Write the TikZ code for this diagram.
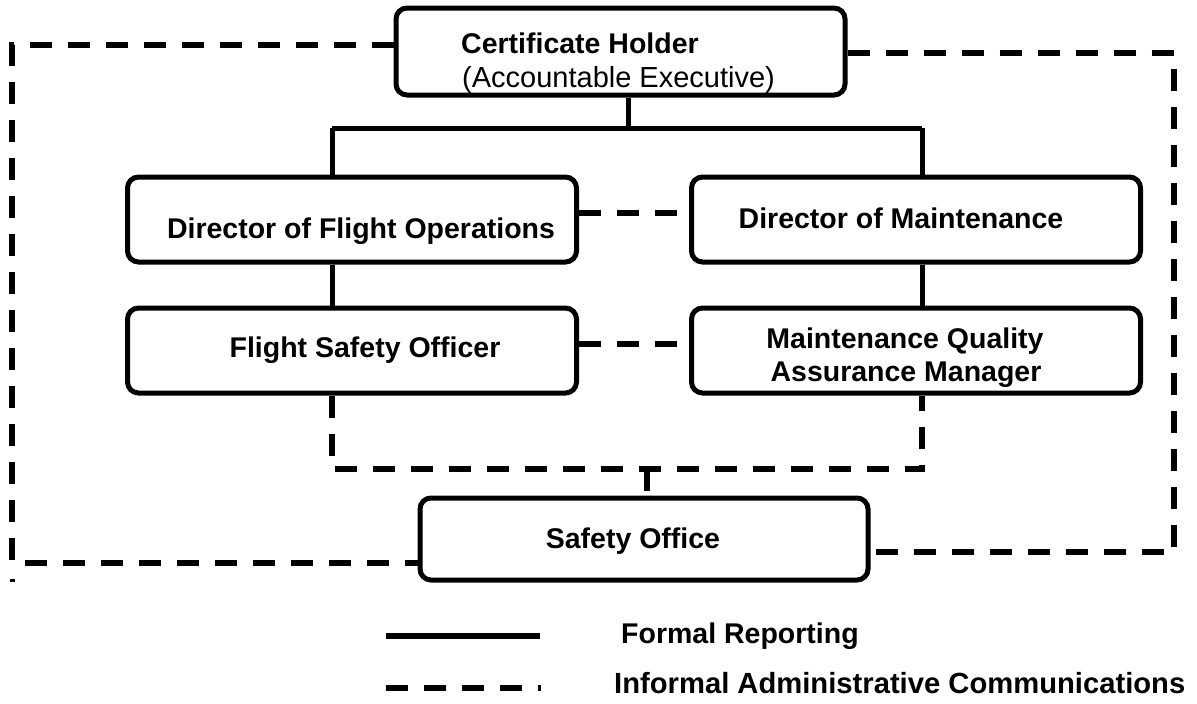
\documentclass[tikz,border=0pt]{standalone}
\usepackage{fontspec}
\setmainfont{Liberation Sans}
\begin{document}
\begin{tikzpicture}[x=1pt,y=-1pt,
  box/.style={draw, line width=5pt, rounded corners=11pt, inner sep=0pt, minimum width=449pt},
  txt/.style={font=\bfseries\fontsize{28.5}{34}\selectfont, inner sep=0pt, anchor=base},
  rtxt/.style={font=\fontsize{29}{34}\selectfont, inner sep=0pt, anchor=base west},
  formal/.style={line width=5pt},
  informal/.style={line width=5.5pt, dash pattern=on 22pt off 16pt}]
\useasboundingbox (0,0) rectangle (1197,704);
% boxes
\node[box, minimum height=87pt] (ch) at (620.5,51.5) {};
\node[box, minimum height=85pt] (dfo) at (352,219.5) {};
\node[box, minimum height=85pt] (dom) at (916,219.5) {};
\node[box, minimum height=85pt] (fso) at (352,350.5) {};
\node[box, minimum height=85pt] (mqam) at (916,350.5) {};
\node[box, minimum height=82pt, minimum width=448pt] (so) at (644,539) {};
% texts
\node[txt, anchor=base west] (tch1) at (461,53.5) {Certificate Holder};
\node[rtxt] (tch2) at (462,87) {(Accountable Executive)};
\node[txt] (tdfo) at (361,238) {Director of Flight Operations};
\node[txt] (tdom) at (901,228.5) {Director of Maintenance};
\node[txt] (tfso) at (365,357.5) {Flight Safety Officer};
\node[txt] (tmq1) at (905,348.5) {Maintenance Quality};
\node[txt] (tmq2) at (906,381.5) {Assurance Manager};
\node[txt] (tso) at (633,548.5) {Safety Office};
% formal reporting lines
\coordinate (hub) at (628,128);
\coordinate (tl) at (332,128);
\coordinate (tr) at (922,128);
\draw[formal] (ch.south -| hub) -- (hub);
\draw[formal] (tl) -- (tr);
\draw[formal] (tl) -- (tl |- dfo.north);
\draw[formal] (tr) -- (tr |- dom.north);
\draw[formal] (tl |- dfo.south) -- (tl |- fso.north);
\draw[formal] (tr |- dom.south) -- (tr |- mqam.north);
% informal lines
\draw[informal] ([yshift=6.5pt]dfo.east) -- ([yshift=6.5pt]dom.west);
\draw[informal] ([yshift=6.5pt]fso.east) -- ([yshift=6.5pt]mqam.west);
\coordinate (ul) at (332,469);
\coordinate (ur) at (922,469);
\draw[informal] (tl |- fso.south) -- (ul) -- (ur) -- (tr |- mqam.south);
\coordinate (st) at (647,469);
\draw[informal] (st) -- (st |- so.north);
\coordinate (c1) at (12,45);
\coordinate (c2) at (12,563);
\coordinate (c3) at (1174,53);
\coordinate (c4) at (1174,552);
\draw[informal] (ch.west |- c1) -- (c1) -- (c2) -- (so.west |- c2);
\draw[informal] (ch.east |- c3) -- (c3) -- (c4) -- (so.east |- c4);
\coordinate (sa) at (10,580);
\coordinate (sb) at (15,580);
\draw[line width=3pt] (sa) -- (sb);
% legend
\coordinate (l1a) at (386,636);
\coordinate (l1b) at (540,636);
\coordinate (l2a) at (386,688);
\coordinate (l2b) at (541,688);
\draw[line width=6pt] (l1a) -- (l1b);
\draw[informal, line width=6pt] (l2a) -- (l2b);
\node[txt, anchor=base west] (lg1) at (621,643.5) {Formal Reporting};
\node[txt, anchor=base west, font=\bfseries\fontsize{29.2}{34}\selectfont] (lg2) at (614,693.5) {Informal Administrative Communications};
\end{tikzpicture}
\end{document}
